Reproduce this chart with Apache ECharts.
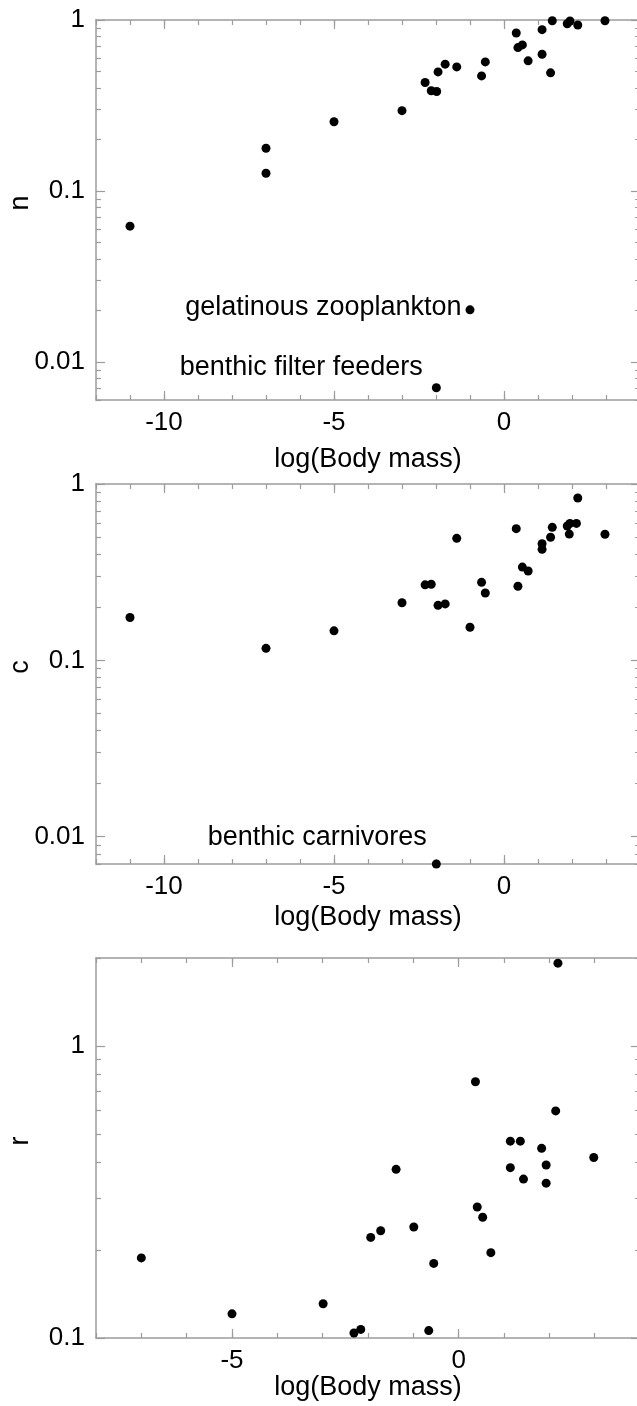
<!DOCTYPE html>
<html>
<head>
<meta charset="utf-8">
<title>log(Body mass) scatter panels</title>
<script src="https://cdn.jsdelivr.net/npm/echarts@6/dist/echarts.min.js"></script>
<style>
  html, body { margin: 0; padding: 0; background: #fff; }
  #chart { width: 637px; height: 1406px; }
</style>
</head>
<body>
<div id="chart"></div>
<script>
// ---- data (x = log(Body mass)) ----
// panel n
var nMass = [-11, -7, -7, -5, -3, -2.32, -2.14, -1.98, -1.94, -1.73, -1.39, -0.66, -0.55,
  0.36, 0.41, 0.54, 0.71, 1.12, 1.12, 1.37, 1.42, 1.86, 1.94, 2.17, 2.97]
var nVal = [0.0623, 0.178, 0.127, 0.254, 0.295, 0.431, 0.386, 0.382, 0.497, 0.552, 0.532, 0.471, 0.569,
  0.840, 0.690, 0.715, 0.577, 0.878, 0.631, 0.491, 0.99, 0.951, 0.987, 0.935, 0.99]
var nNoteMass = [-1, -1.99]
var nNoteVal = [0.0202, 0.00708]
var nNoteText = ['gelatinous zooplankton', 'benthic filter feeders']

// panel c
var cMass = [-11, -7, -5, -3, -2.32, -2.14, -1.94, -1.73, -1.39, -1, -0.66, -0.55, 0.36, 0.41,
  0.54, 0.71, 1.12, 1.12, 1.37, 1.42, 1.86, 1.94, 1.92, 2.13, 2.17, 2.97]
var cVal = [0.175, 0.117, 0.147, 0.212, 0.268, 0.270, 0.205, 0.209, 0.492, 0.154, 0.277, 0.241, 0.558, 0.263,
  0.338, 0.321, 0.458, 0.426, 0.499, 0.568, 0.578, 0.598, 0.520, 0.598, 0.833, 0.519]
var cNoteMass = [-1.99]
var cNoteVal = [0.007]
var cNoteText = ['benthic carnivores']

// panel r
var rMass = [2.19, 0.37, 2.14, 1.14, 1.36, 1.83, 1.14, 1.43, 1.93, 1.93, 2.98, -1.38, 0.41, 0.53,
  -0.99, -1.72, -1.94, 0.71, -0.55, -7, -2.99, -5, -2.16, -2.31, -0.66]
var rVal = [1.92, 0.754, 0.599, 0.472, 0.472, 0.446, 0.383, 0.350, 0.391, 0.339, 0.415, 0.378, 0.281, 0.259,
  0.240, 0.233, 0.221, 0.196, 0.180, 0.188, 0.131, 0.121, 0.107, 0.104, 0.106]

// axis ticks
var xMajorWide = [-10, -5, 0]
var xMajorNarrow = [-5, 0]
var yMajorWide = [0.01, 0.1, 1]
var yMajorNarrow = [0.1, 1]
var xTitle = 'log(Body mass)'

var FONT = 'Liberation Sans, Arial, sans-serif'
var GRAY = '#9c9c9c'

function range (a, b) {
  var out = []
  for (var i = a; i <= b; i++) out.push(i)
  return out
}
function logMinors (lo, hi) {
  var out = []
  for (var e = -3; e <= 1; e++) {
    for (var m = 2; m <= 9; m++) {
      var v = +(m * Math.pow(10, e)).toPrecision(3)
      if (v >= lo && v <= hi) out.push(v)
    }
  }
  return out
}
function zip (xs, ys) {
  return xs.map(function (x, i) { return [x, ys[i]] })
}

var grids = []
var xAxes = []
var yAxes = []
var series = []

function addPanel (p) {
  var g = grids.length
  grids.push({ left: 96, right: -3, top: p.top, height: 380, containLabel: false, outerBoundsMode: 'none' })
  var line = { show: true, onZero: false, lineStyle: { color: GRAY, width: 1.5 } }
  var noLine = { show: false, onZero: false }
  var tickStyle = { color: GRAY, width: 1.2 }
  var xBase = { gridIndex: g, type: 'value', min: p.xMin, max: p.xMax, splitLine: { show: false } }
  var xi = xAxes.length
  xAxes.push(Object.assign({}, xBase, {
    position: 'bottom', axisLine: line,
    axisTick: { show: true, inside: true, length: 9, customValues: p.xMajor, lineStyle: tickStyle },
    axisLabel: { customValues: p.xMajor, margin: 10, fontSize: 26, color: '#000', fontFamily: FONT },
    name: xTitle, nameLocation: 'middle', nameGap: p.xNameGap, nameMoveOverlap: false,
    nameTextStyle: { fontSize: 27, color: '#000', fontFamily: FONT }
  }))
  xAxes.push(Object.assign({}, xBase, {
    position: 'bottom', axisLine: noLine,
    axisTick: { show: true, inside: true, length: 5, customValues: range(p.xMin, p.xMax), lineStyle: tickStyle },
    axisLabel: { show: false }
  }))
  xAxes.push(Object.assign({}, xBase, {
    position: 'top', axisLine: line,
    axisTick: { show: true, inside: true, length: 9, customValues: p.xMajor, lineStyle: tickStyle },
    axisLabel: { show: false }
  }))
  xAxes.push(Object.assign({}, xBase, {
    position: 'top', axisLine: noLine,
    axisTick: { show: true, inside: true, length: 5, customValues: range(p.xMin, p.xMax), lineStyle: tickStyle },
    axisLabel: { show: false }
  }))

  var yBase = { gridIndex: g, type: 'log', logBase: 10, min: p.yMin, max: p.yMax, splitLine: { show: false } }
  var yi = yAxes.length
  yAxes.push(Object.assign({}, yBase, {
    position: 'left', axisLine: line,
    axisTick: { show: true, inside: true, length: 9, customValues: p.yMajor, lineStyle: tickStyle },
    axisLabel: {
      customValues: p.yMajor, margin: 11, fontSize: 26, color: '#000', fontFamily: FONT,
      formatter: function (v) { return String(+(+v).toPrecision(3)) }
    },
    name: p.yName, nameLocation: 'middle', nameGap: 62, nameRotate: 90, nameMoveOverlap: false,
    nameTextStyle: { fontSize: 27, color: '#000', fontFamily: FONT, padding: [0, 0, 0, 14] }
  }))
  yAxes.push(Object.assign({}, yBase, {
    position: 'left', axisLine: noLine,
    axisTick: { show: true, inside: true, length: 5, customValues: logMinors(p.yMin, p.yMax), lineStyle: tickStyle },
    axisLabel: { show: false }
  }))
  yAxes.push(Object.assign({}, yBase, {
    position: 'right', axisLine: line,
    axisTick: { show: true, inside: true, length: 9, customValues: p.yMajor, lineStyle: tickStyle },
    axisLabel: { show: false }
  }))
  yAxes.push(Object.assign({}, yBase, {
    position: 'right', axisLine: noLine,
    axisTick: { show: true, inside: true, length: 5, customValues: logMinors(p.yMin, p.yMax), lineStyle: tickStyle },
    axisLabel: { show: false }
  }))

  var dot = { color: '#000', opacity: 1 }
  series.push({
    type: 'scatter', xAxisIndex: xi, yAxisIndex: yi, clip: false,
    symbolSize: 9, itemStyle: dot,
    data: zip(p.xs, p.ys)
  })
  if (p.noteXs) {
    series.push({
      type: 'scatter', xAxisIndex: xi, yAxisIndex: yi, clip: false,
      symbolSize: 9, itemStyle: dot,
      data: p.noteXs.map(function (x, i) {
        var lay = p.noteLayout[i]
        return {
          value: [x, p.noteYs[i]],
          label: {
            show: true, position: 'left', distance: lay.distance, offset: [0, lay.dy],
            formatter: p.noteText[i], fontSize: 27, color: '#000', opacity: 1, fontFamily: FONT
          }
        }
      })
    })
  }
}

addPanel({
  top: 20, xMin: -12, xMax: 4, xMajor: xMajorWide, yMin: 0.006, yMax: 1, yMajor: yMajorWide,
  yName: 'n', xNameGap: 46, xs: nMass, ys: nVal,
  noteXs: nNoteMass, noteYs: nNoteVal, noteText: nNoteText,
  noteLayout: [{ distance: 4, dy: -2 }, { distance: 9, dy: -20 }]
})
addPanel({
  top: 484, xMin: -12, xMax: 4, xMajor: xMajorWide, yMin: 0.007, yMax: 1, yMajor: yMajorWide,
  yName: 'c', xNameGap: 40, xs: cMass, ys: cVal,
  noteXs: cNoteMass, noteYs: cNoteVal, noteText: cNoteText,
  noteLayout: [{ distance: 5, dy: -26 }]
})
addPanel({
  top: 958, xMin: -8, xMax: 4, xMajor: xMajorNarrow, yMin: 0.1, yMax: 2, yMajor: yMajorNarrow,
  yName: 'r', xNameGap: 36, xs: rMass, ys: rVal
})

var chart = echarts.init(document.getElementById('chart'), null, { renderer: 'canvas' })
chart.setOption({
  animation: false,
  backgroundColor: '#fff',
  grid: grids,
  xAxis: xAxes,
  yAxis: yAxes,
  series: series
})
</script>
</body>
</html>
